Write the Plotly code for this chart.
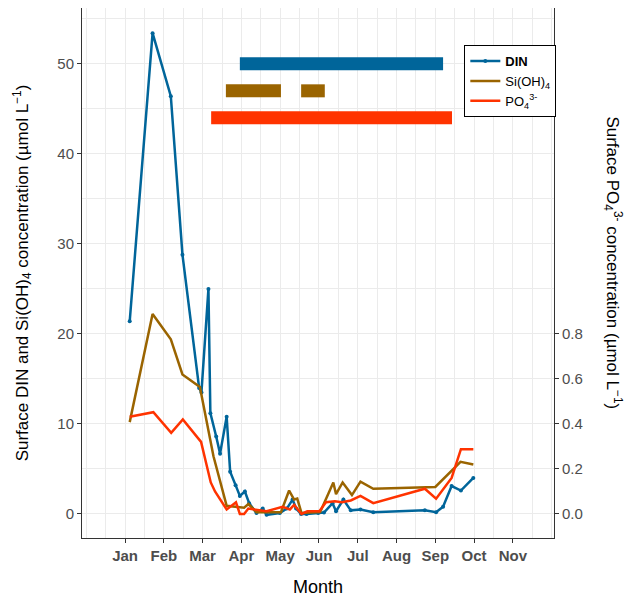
import plotly.graph_objects as go

# months as decimal (1 = Jan)
din_x = [1.12, 1.71, 2.18, 2.48, 2.91, 2.97, 3.15, 3.20, 3.35, 3.45, 3.62, 3.71, 3.85, 3.96, 4.09, 4.20,
         4.39, 4.55, 4.65, 4.99, 5.17, 5.32, 5.41, 5.54, 5.68, 5.98, 6.13, 6.35, 6.44, 6.63, 6.82, 7.07,
         7.40, 8.73, 9.02, 9.20, 9.42, 9.66, 9.98]
din_y = [21.4, 53.4, 46.4, 28.8, 14.0, 13.5, 25.0, 11.2, 8.6, 6.7, 10.8, 4.7, 3.2, 2.0, 2.5, 1.2,
         0.1, 0.6, -0.1, 0.1, 0.6, 1.6, 0.6, 0.0, 0.0, 0.1, 0.15, 1.2, 0.3, 1.6, 0.4, 0.5,
         0.2, 0.4, 0.2, 0.8, 3.1, 2.6, 4.0]
si_x = [1.12, 1.71, 2.18, 2.48, 2.93, 3.28, 3.62, 3.95, 4.07, 4.18, 4.39, 4.56, 5.02, 5.23, 5.36, 5.44,
        5.55, 6.03, 6.37, 6.44, 6.61, 6.85, 7.07, 7.40, 9.00, 9.65, 9.98]
si_y = [10.2, 22.2, 19.4, 15.5, 14.1, 6.4, 0.9, 0.7, 0.7, 1.1, 0.2, 0.2, 0.2, 2.6, 1.6, 1.7,
        0.1, 0.2, 3.5, 2.2, 3.5, 2.1, 3.6, 2.8, 3.0, 5.8, 5.5]
po4_x = [1.12, 1.73, 2.19, 2.49, 2.96, 3.21, 3.32, 3.62, 3.86, 3.96, 4.07, 4.18, 4.65, 5.06, 5.25, 5.36,
         5.55, 5.70, 6.01, 6.18, 6.41, 6.59, 6.82, 7.07, 7.40, 8.73, 9.02, 9.42, 9.66, 9.98]
po4_y = [0.432, 0.452, 0.36, 0.42, 0.32, 0.14, 0.10, 0.02, 0.052, 0.0, 0.0, 0.024, 0.012, 0.032, 0.02, 0.04,
         0.0, 0.012, 0.012, 0.052, 0.056, 0.052, 0.06, 0.08, 0.048, 0.112, 0.068, 0.16, 0.288, 0.288]

# limitation periods (start, end, level on left axis)
din_bar = [(3.96, 9.20)]
si_bar = [(3.60, 5.02), (5.54, 6.15)]
po4_bar = [(3.22, 9.43)]
bar_levels = [50, 47, 44]

month_pos = list(range(1, 12))
month_lab = ["Jan", "Feb", "Mar", "Apr", "May", "Jun", "Jul", "Aug", "Sep", "Oct", "Nov"]

C_DIN, C_SI, C_PO4 = "#00659a", "#9a6400", "#ff3300"
SCALE = 25.0
y1_range = [-2.67, 56.2]

fig = go.Figure()
for bars, lvl, col in [(din_bar, bar_levels[0], C_DIN), (si_bar, bar_levels[1], C_SI), (po4_bar, bar_levels[2], C_PO4)]:
    for a, b in bars:
        fig.add_trace(go.Scatter(x=[a, b], y=[lvl, lvl], mode="lines", line=dict(color=col, width=13),
                                 showlegend=False, hoverinfo="skip"))

fig.add_trace(go.Scatter(x=din_x, y=din_y, mode="lines+markers", name="<b>DIN</b>",
                         line=dict(color=C_DIN, width=2.5), marker=dict(size=4)))
fig.add_trace(go.Scatter(x=si_x, y=si_y, mode="lines", name="Si(OH)<sub>4</sub>",
                         line=dict(color=C_SI, width=2.5)))
fig.add_trace(go.Scatter(x=po4_x, y=po4_y, mode="lines", name="PO<sub>4</sub><sup>3-</sup>",
                         line=dict(color=C_PO4, width=2.5), yaxis="y2"))

grid = "#ebebeb"
fig.update_layout(
    width=620, height=589,
    margin=dict(l=74, r=74, t=0, b=59, autoexpand=False),
    plot_bgcolor="white", paper_bgcolor="white",
    font=dict(family="Liberation Sans, Arial", size=15, color="black"),
    xaxis=dict(range=[-0.11, 12.06], tickvals=month_pos, ticktext=month_lab,
               tickfont=dict(size=15, color="#4d4d4d", weight="bold"),
               showgrid=True, gridcolor=grid, gridwidth=1.2,
               minor=dict(dtick=0.5, tick0=0.5, showgrid=True, gridcolor=grid, gridwidth=0.8),
               ticks="outside", ticklen=4, tickcolor="#333",
               showline=True, linecolor="#333", mirror=True, zeroline=False,
               title=dict(text="Month", font=dict(size=18), standoff=22)),
    yaxis=dict(range=y1_range, tickvals=[0, 10, 20, 30, 40, 50], tickfont=dict(size=15, color="#4d4d4d"),
               showgrid=True, gridcolor=grid, gridwidth=1.2,
               minor=dict(dtick=5, showgrid=True, gridcolor=grid, gridwidth=0.8),
               ticks="outside", ticklen=4, tickcolor="#333",
               showline=True, linecolor="#333", mirror=True, zeroline=False,
               title=dict(text="Surface DIN and Si(OH)<sub>4</sub> concentration (µmol L<sup>−1</sup>)",
                          font=dict(size=17), standoff=24)),
    yaxis2=dict(overlaying="y", side="right", range=[v / SCALE for v in y1_range],
                tickvals=[0, 0.2, 0.4, 0.6, 0.8], ticktext=["0.0", "0.2", "0.4", "0.6", "0.8"],
                tickfont=dict(size=15, color="#4d4d4d"), showgrid=False, zeroline=False,
                ticks="outside", ticklen=4, tickcolor="#333"),
    legend=dict(x=0.81, y=0.93, xanchor="left", yanchor="top", bgcolor="white",
                bordercolor="black", borderwidth=1, font=dict(size=13), tracegroupgap=0,
                itemwidth=30),
    annotations=[dict(text="Surface PO<sub>4</sub><sup>3-</sup> concentration (µmol L<sup>−1</sup>)",
                      xref="paper", yref="paper", x=1.125, y=0.52, textangle=90, showarrow=False,
                      font=dict(size=17), xanchor="center", yanchor="middle")],
)
fig.write_html("out.html")
